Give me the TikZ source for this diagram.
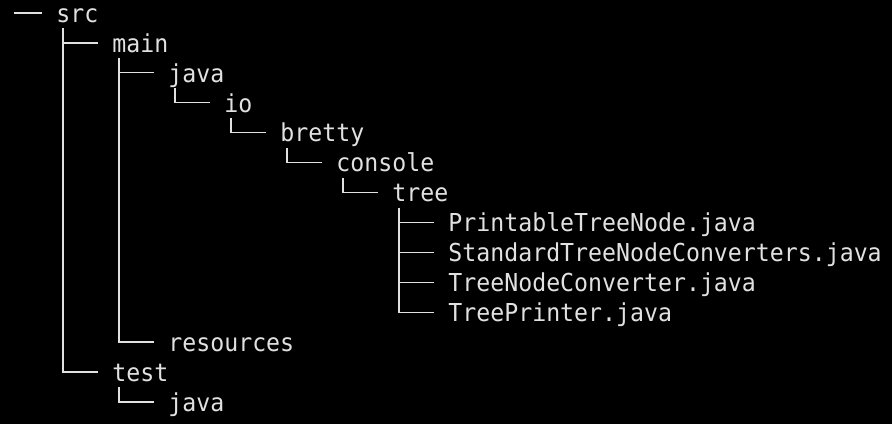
\documentclass[tikz,border=0pt]{standalone}
\usepackage{fontspec}
\newfontfamily\termfont{DejaVu Sans Mono}[FakeStretch=0.94]
\definecolor{termfg}{RGB}{225,225,225}

\begin{document}
\begin{tikzpicture}[
      x=7pt, y=-14.96pt,
      entry/.style ={anchor=west, inner sep=0pt, text=termfg,
                     font=\termfont\fontsize{12.35pt}{14pt}\selectfont,
                     text height=9.3pt, text depth=0pt, minimum height=14.96pt},
      branch/.style={draw=termfg, line width=0.65pt}
    ]

    % Terminal background
    \fill[black] (0,-0.4345) rectangle (63.714,13.737);
    \useasboundingbox (0,-0.4345) rectangle (63.714,13.737);

    % Entries (column, row)
    \node[entry] (src)     at (4,0)  {src};
    \node[entry] (main)    at (8,1)  {main};
    \node[entry] (mjava)   at (12,2) {java};
    \node[entry] (io)      at (16,3) {io};
    \node[entry] (bretty)  at (20,4) {bretty};
    \node[entry] (console) at (24,5) {console};
    \node[entry] (tree)    at (28,6) {tree};
    \node[entry] (ptn)     at (32,7) {PrintableTreeNode.java};
    \node[entry] (stnc)    at (32,8) {StandardTreeNodeConverters.java};
    \node[entry] (tnc)     at (32,9) {TreeNodeConverter.java};
    \node[entry] (tp)      at (32,10) {TreePrinter.java};
    \node[entry] (res)     at (12,11) {resources};
    \node[entry] (test)    at (8,12) {test};
    \node[entry] (tjava)   at (12,13) {java};

    % Root branch
    \coordinate (root) at (1,0);
    \draw[branch] (root) -- ([xshift=-7pt]src.west);

    % Branches from parent to child
    \foreach \p/\c in {src/main, src/test, main/mjava, main/res, mjava/io,
                       io/bretty, bretty/console, console/tree, tree/ptn,
                       tree/stnc, tree/tnc, tree/tp, test/tjava}
      \draw[branch] ([xshift=3.5pt]\p.south west) |- ([xshift=-7pt]\c.west);

  \end{tikzpicture}
\end{document}
